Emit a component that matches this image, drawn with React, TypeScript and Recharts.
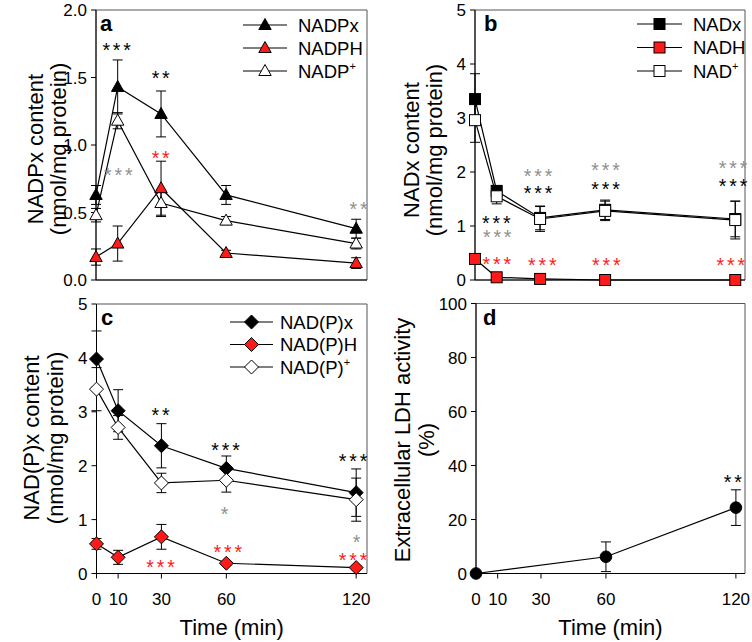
import React from 'react';
import { ComposedChart, Line, Scatter, XAxis, YAxis, ErrorBar, ReferenceArea } from 'recharts';

const FONT = '"Liberation Sans", Arial, Helvetica, sans-serif';
const RED = '#ff1a1a';
const GRAY = '#8f8f8f';

// ---------- data ----------
const TIMES = [0, 10, 30, 60, 120];
const X_TICKS = [0, 10, 30, 60, 120];

// panel a
const NADPX = [0.63, 1.43, 1.23, 0.63, 0.38];
const NADPX_ERR = [0.07, 0.2, 0.17, 0.07, 0.07];
const NADPH = [0.17, 0.27, 0.68, 0.2, 0.125];
const NADPH_ERR = [0.06, 0.13, 0.2, 0.02, 0.04];
const NADP_OX = [0.48, 1.18, 0.57, 0.44, 0.27];
const NADP_OX_ERR = [0.05, 0.06, 0.1, 0.03, 0.04];

// panel b
const NADX = [3.35, 1.65, 1.15, 1.3, 1.13];
const NADX_ERR = [0.47, 0.1, 0.22, 0.18, 0.33];
const NADH = [0.39, 0.05, 0.02, 0.0, 0.0];
const NADH_ERR = [0.05, 0.02, 0.01, 0.0, 0.0];
const NAD_OX = [2.96, 1.55, 1.13, 1.28, 1.11];
const NAD_OX_ERR = [0.41, 0.14, 0.23, 0.18, 0.35];

// panel c
const NADPPX = [3.98, 3.02, 2.37, 1.95, 1.5];
const NADPPX_ERR = [0.52, 0.39, 0.41, 0.23, 0.44];
const NADPPH = [0.55, 0.3, 0.68, 0.19, 0.11];
const NADPPH_ERR = [0.1, 0.13, 0.23, 0.03, 0.03];
const NADPP_OX = [3.42, 2.71, 1.68, 1.73, 1.37];
const NADPP_OX_ERR = [0.4, 0.22, 0.18, 0.22, 0.4];

// panel d
const LDH_TIMES = [0, 60, 120];
const LDH = [0, 6.2, 24.4];
const LDH_ERR = [0, 5.5, 6.6];

// significance marks
const STARS_A = [
  { t: 10.2, v: 1.74, s: '***', c: '#000' },
  { t: 11, v: 0.815, s: '***', c: GRAY },
  { t: 30.5, v: 1.53, s: '**', c: '#000' },
  { t: 30.5, v: 0.94, s: '**', c: RED },
  { t: 121.8, v: 0.56, s: '**', c: GRAY },
];
const STARS_B = [
  { t: 10.5, v: 1.14, s: '***', c: '#000' },
  { t: 10.9, v: 0.88, s: '***', c: GRAY },
  { t: 10.7, v: 0.39, s: '***', c: RED },
  { t: 29.7, v: 2.02, s: '***', c: GRAY },
  { t: 29.7, v: 1.69, s: '***', c: '#000' },
  { t: 31.7, v: 0.37, s: '***', c: RED },
  { t: 60.9, v: 2.12, s: '***', c: GRAY },
  { t: 60.9, v: 1.77, s: '***', c: '#000' },
  { t: 61.2, v: 0.37, s: '***', c: RED },
  { t: 119.7, v: 2.16, s: '***', c: GRAY },
  { t: 119.7, v: 1.82, s: '***', c: '#000' },
  { t: 118.6, v: 0.37, s: '***', c: RED },
];
const STARS_C = [
  { t: 30.3, v: 3.02, s: '**', c: '#000' },
  { t: 60.3, v: 2.37, s: '***', c: '#000' },
  { t: 119.2, v: 2.18, s: '***', c: '#000' },
  { t: 59.8, v: 1.2, s: '*', c: GRAY },
  { t: 120.8, v: 0.68, s: '*', c: GRAY },
  { t: 30.3, v: 0.2, s: '***', c: RED },
  { t: 61.3, v: 0.49, s: '***', c: RED },
  { t: 119.2, v: 0.34, s: '***', c: RED },
];
const STARS_D = [{ t: 119.2, v: 35.5, s: '**', c: '#000' }];

// ---------- shapes ----------
type Kind = 'tri' | 'sq' | 'dia' | 'circ';

function markerEl(kind: Kind, cx: number, cy: number, fill: string, key?: string) {
  if (cx == null || cy == null || isNaN(cx) || isNaN(cy)) return <g key={key} />;
  const common = { fill, stroke: '#000', strokeWidth: 1 };
  if (kind === 'tri')
    return <polygon key={key} points={`${cx},${cy - 6.5} ${cx - 6.2},${cy + 4.5} ${cx + 6.2},${cy + 4.5}`} {...common} />;
  if (kind === 'sq') return <rect key={key} x={cx - 5.5} y={cy - 5.5} width={11} height={11} {...common} />;
  if (kind === 'dia')
    return <polygon key={key} points={`${cx},${cy - 7} ${cx + 7},${cy} ${cx},${cy + 7} ${cx - 7},${cy}`} {...common} />;
  return <circle key={key} cx={cx} cy={cy} r={5.8} {...common} />;
}

const STAR_FS = 17;
const starShape = (p: any) => {
  const d = p.payload || {};
  return (
    <text
      x={p.cx}
      y={p.cy + 0.6 * STAR_FS}
      textAnchor="middle"
      fill={d.c}
      fontSize={STAR_FS}
      fontFamily={FONT}
      letterSpacing={2.5}
      transform={`translate(${p.cx} ${p.cy}) scale(1.15) translate(${-p.cx} ${-p.cy})`}
    >
      {d.s}
    </text>
  );
};

// ---------- panels ----------
type Series = { key: string; err: string; name: string; sup?: string; fill: string; vals: number[]; errs: number[] };

type Panel = {
  id: string;
  plot: { l: number; t: number; r: number; b: number };
  xMax: number;
  yMax: number;
  yTicks: number[];
  fmt: (v: number) => string;
  times: number[];
  kind: Kind;
  series: Series[];
  stars: any[];
  showX: boolean;
  title: string[];
  titleX: number[];
  titleCy: number;
  letterX: number;
  legend?: { rows: number[]; lx1: number; lx2: number; tx: number };
};

const PANELS: Panel[] = [
  {
    id: 'a',
    plot: { l: 96, t: 10, r: 367, b: 280 },
    xMax: 125,
    yMax: 2,
    yTicks: [0, 0.5, 1, 1.5, 2],
    fmt: (v) => v.toFixed(1),
    times: TIMES,
    kind: 'tri',
    series: [
      { key: 'x', err: 'xe', name: 'NADPx', fill: '#000', vals: NADPX, errs: NADPX_ERR },
      { key: 'h', err: 'he', name: 'NADPH', fill: RED, vals: NADPH, errs: NADPH_ERR },
      { key: 'o', err: 'oe', name: 'NADP', sup: '+', fill: '#fff', vals: NADP_OX, errs: NADP_OX_ERR },
    ],
    stars: STARS_A,
    showX: false,
    title: ['NADPx content', '(nmol/mg protein)'],
    titleX: [43, 66],
    titleCy: 149,
    letterX: 100,
    legend: { rows: [25, 48, 71], lx1: 243, lx2: 287, tx: 298 },
  },
  {
    id: 'b',
    plot: { l: 475, t: 10, r: 745, b: 280 },
    xMax: 124.5,
    yMax: 5,
    yTicks: [0, 1, 2, 3, 4, 5],
    fmt: (v) => String(v),
    times: TIMES,
    kind: 'sq',
    series: [
      { key: 'x', err: 'xe', name: 'NADx', fill: '#000', vals: NADX, errs: NADX_ERR },
      { key: 'h', err: 'he', name: 'NADH', fill: RED, vals: NADH, errs: NADH_ERR },
      { key: 'o', err: 'oe', name: 'NAD', sup: '+', fill: '#fff', vals: NAD_OX, errs: NAD_OX_ERR },
    ],
    stars: STARS_B,
    showX: false,
    title: ['NADx content', '(nmol/mg protein)'],
    titleX: [419, 442],
    titleCy: 150,
    letterX: 484,
    legend: { rows: [24, 47.5, 71], lx1: 637, lx2: 682, tx: 693 },
  },
  {
    id: 'c',
    plot: { l: 96.5, t: 304, r: 367, b: 573.5 },
    xMax: 125,
    yMax: 5,
    yTicks: [0, 1, 2, 3, 4, 5],
    fmt: (v) => String(v),
    times: TIMES,
    kind: 'dia',
    series: [
      { key: 'x', err: 'xe', name: 'NAD(P)x', fill: '#000', vals: NADPPX, errs: NADPPX_ERR },
      { key: 'h', err: 'he', name: 'NAD(P)H', fill: RED, vals: NADPPH, errs: NADPPH_ERR },
      { key: 'o', err: 'oe', name: 'NAD(P)', sup: '+', fill: '#fff', vals: NADPP_OX, errs: NADPP_OX_ERR },
    ],
    stars: STARS_C,
    showX: true,
    title: ['NAD(P)x content', '(nmol/mg protein)'],
    titleX: [39, 63],
    titleCy: 438,
    letterX: 101,
    legend: { rows: [322, 344.5, 367], lx1: 230, lx2: 273, tx: 280 },
  },
  {
    id: 'd',
    plot: { l: 476, t: 303.5, r: 745, b: 573.5 },
    xMax: 124.2,
    yMax: 100,
    yTicks: [0, 20, 40, 60, 80, 100],
    fmt: (v) => String(v),
    times: LDH_TIMES,
    kind: 'circ',
    series: [{ key: 'x', err: 'xe', name: 'LDH', fill: '#000', vals: LDH, errs: LDH_ERR }],
    stars: STARS_D,
    showX: true,
    title: ['Extracellular LDH activity', '(%)'],
    titleX: [410, 434],
    titleCy: 440,
    letterX: 483,
  },
];

const W = 752;
const H = 642;
const X_AXIS_H = 30;
const TICK_FS = 17;
const TITLE_FS = 22;
const LEGEND_FS = 18.5;

function decor(p: Panel) {
  return () => {
    const els: any[] = [];
    p.title.forEach((line, i) => {
      const x = p.titleX[i];
      els.push(
        <text
          key={'t' + i}
          x={x}
          y={p.titleCy}
          transform={`rotate(-90 ${x} ${p.titleCy})`}
          textAnchor="middle"
          fontSize={TITLE_FS}
          fontFamily={FONT}
          fill="#000"
        >
          {line}
        </text>
      );
    });
    els.push(
      <text key="letter" x={p.letterX} y={p.plot.t + 21} fontSize={22} fontWeight="bold" fontFamily={FONT} fill="#000">
        {p.id}
      </text>
    );
    if (p.showX) {
      els.push(
        <text
          key="xt"
          x={(p.plot.l + p.plot.r) / 2}
          y={635}
          textAnchor="middle"
          fontSize={TITLE_FS}
          fontFamily={FONT}
          fill="#000"
        >
          Time (min)
        </text>
      );
    }
    if (p.legend) {
      const lg = p.legend;
      p.series.forEach((s, i) => {
        const y = lg.rows[i];
        const mx = (lg.lx1 + lg.lx2) / 2;
        els.push(
          <g key={'lg' + i}>
            <line x1={lg.lx1} x2={lg.lx2} y1={y} y2={y} stroke="#000" strokeWidth={1.2} />
            {markerEl(p.kind, mx, y, s.fill)}
            <text x={lg.tx} y={y + 6.8} fontSize={LEGEND_FS} fontFamily={FONT} fill="#000">
              {s.name}
              {s.sup ? (
                <tspan dy={-8} fontSize={11}>
                  {s.sup}
                </tspan>
              ) : null}
            </text>
          </g>
        );
      });
    }
    return <g>{els}</g>;
  };
}

function PanelChart({ p }: { p: Panel }) {
  const rows = p.times.map((t, i) => {
    const r: any = { t };
    p.series.forEach((s) => {
      r[s.key] = s.vals[i];
      r[s.err] = s.errs[i];
    });
    return r;
  });
  const margin = {
    top: p.plot.t,
    left: 0,
    right: W - p.plot.r,
    bottom: H - p.plot.b - X_AXIS_H,
  };
  const tickStyle = { fill: '#000', fontSize: TICK_FS, fontFamily: FONT };
  return (
    <div style={{ position: 'absolute', left: 0, top: 0 }}>
      <ComposedChart width={W} height={H} data={rows} margin={margin}>
        <ReferenceArea
          x1={0}
          x2={p.xMax}
          y1={0}
          y2={p.yMax}
          fill="none"
          fillOpacity={0}
          stroke="#555"
          strokeWidth={1}
          ifOverflow="visible"
        />
        <XAxis
          dataKey="t"
          type="number"
          domain={[0, p.xMax]}
          ticks={X_TICKS}
          height={X_AXIS_H}
          axisLine={{ stroke: '#000' }}
          tickLine={{ stroke: '#000' }}
          tickSize={5}
          tickMargin={14}
          tick={p.showX ? tickStyle : false}
          interval={0}
        />
        <YAxis
          type="number"
          domain={[0, p.yMax]}
          ticks={p.yTicks}
          width={p.plot.l}
          axisLine={{ stroke: '#000' }}
          tickLine={{ stroke: '#000' }}
          tickSize={5}
          tickMargin={4}
          tick={tickStyle}
          tickFormatter={p.fmt}
          interval={0}
          label={{ content: decor(p) }}
        />
        {p.series.map((s) => (
          <Line
            key={s.key}
            dataKey={s.key}
            type="linear"
            stroke="#000"
            strokeWidth={1.2}
            isAnimationActive={false}
            activeDot={false}
            dot={(dp: any) => markerEl(p.kind, dp.cx, dp.cy, s.fill, `${s.key}-${dp.index}`)}
          >
            <ErrorBar dataKey={s.err} width={5} stroke="#000" strokeWidth={1} direction="y" />
          </Line>
        ))}
        <Scatter data={p.stars} dataKey="v" shape={starShape} isAnimationActive={false} />
      </ComposedChart>
    </div>
  );
}

export default function App() {
  return (
    <div style={{ position: 'absolute', left: 0, top: 0, width: W, height: H, background: '#fff' }}>
      {PANELS.map((p) => (
        <PanelChart key={p.id} p={p} />
      ))}
    </div>
  );
}
